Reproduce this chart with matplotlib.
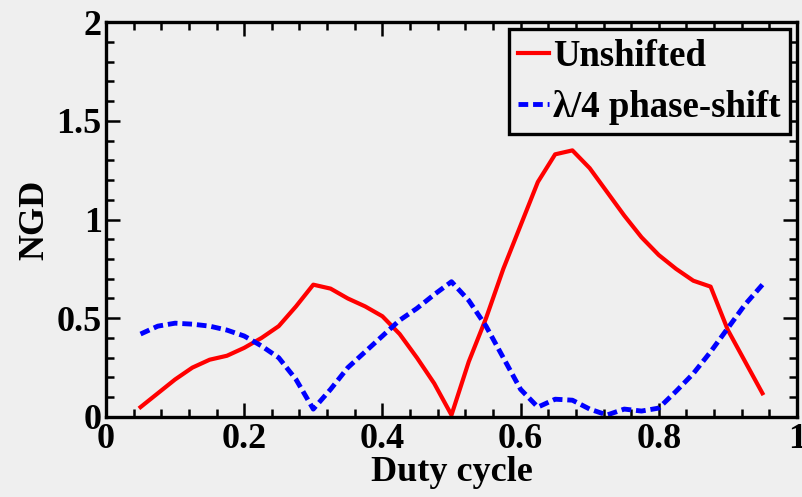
import matplotlib
matplotlib.use('Agg')
import matplotlib.pyplot as plt
from matplotlib.ticker import MultipleLocator

# NGD vs duty cycle for the two grating types
duty = [0.05, 0.075, 0.10, 0.125, 0.15, 0.175, 0.20, 0.225, 0.25, 0.275,
        0.30, 0.325, 0.35, 0.375, 0.40, 0.425, 0.45, 0.475, 0.50, 0.525,
        0.55, 0.575, 0.60, 0.625, 0.65, 0.675, 0.70, 0.725, 0.75, 0.775,
        0.80, 0.825, 0.85, 0.875, 0.90, 0.925, 0.95]

ngd_unshifted = [0.05, 0.12, 0.19, 0.25, 0.29, 0.31, 0.35, 0.40, 0.46, 0.56,
                 0.67, 0.65, 0.60, 0.56, 0.51, 0.42, 0.30, 0.17, 0.01, 0.28,
                 0.50, 0.75, 0.97, 1.19, 1.33, 1.35, 1.26, 1.14, 1.02, 0.91,
                 0.82, 0.75, 0.69, 0.66, 0.44, 0.28, 0.12]

ngd_shifted = [0.42, 0.46, 0.475, 0.47, 0.46, 0.44, 0.41, 0.36, 0.30, 0.19,
               0.04, 0.14, 0.25, 0.33, 0.41, 0.49, 0.55, 0.62, 0.685, 0.59,
               0.46, 0.30, 0.14, 0.05, 0.09, 0.085, 0.04, 0.01, 0.04, 0.03,
               0.045, 0.13, 0.22, 0.33, 0.45, 0.57, 0.67]

bg = '#efefef'
plt.rcParams['font.family'] = 'Liberation Serif'
plt.rcParams['font.weight'] = 'bold'
plt.rcParams['axes.labelweight'] = 'bold'
plt.rcParams['font.size'] = 26

fig = plt.figure(figsize=(8.03, 4.97), dpi=100, facecolor=bg)
ax = fig.add_axes([0.132, 0.161, 0.8605, 0.7947], facecolor=bg)

ax.plot(duty, ngd_unshifted, color='red', lw=3, label='Unshifted')
ax.plot(duty, ngd_shifted, color='blue', lw=3.5, linestyle=(0, (2, 1)),
        label='λ/4 phase-shift')

ax.set_xlim(0, 1)
ax.set_ylim(0, 2)
ax.set_xticks([0, 0.2, 0.4, 0.6, 0.8, 1])
ax.set_xticklabels(['0', '0.2', '0.4', '0.6', '0.8', '1'])
ax.set_yticks([0, 0.5, 1, 1.5, 2])
ax.set_yticklabels(['0', '0.5', '1', '1.5', '2'])
ax.xaxis.set_minor_locator(MultipleLocator(0.04))
ax.yaxis.set_minor_locator(MultipleLocator(0.1))
ax.tick_params(which='both', direction='in', top=True, right=True, width=1.8)
ax.tick_params(which='major', length=10, pad=4)
ax.tick_params(which='minor', length=6)
ax.tick_params(axis='y', pad=3)
for s in ax.spines.values():
    s.set_linewidth(2.4)

ax.set_xlabel('Duty cycle', labelpad=0)
ax.set_ylabel('NGD', labelpad=4)

leg = ax.legend(loc='upper right', fancybox=False, edgecolor='black',
                facecolor=bg, framealpha=1, handlelength=0.85,
                handletextpad=0.1, labelspacing=0.45, borderpad=0.25,
                borderaxespad=0.2, fontsize=26.5)
leg.get_frame().set_linewidth(2.4)

fig.savefig('out.png', dpi=100, facecolor=bg)
